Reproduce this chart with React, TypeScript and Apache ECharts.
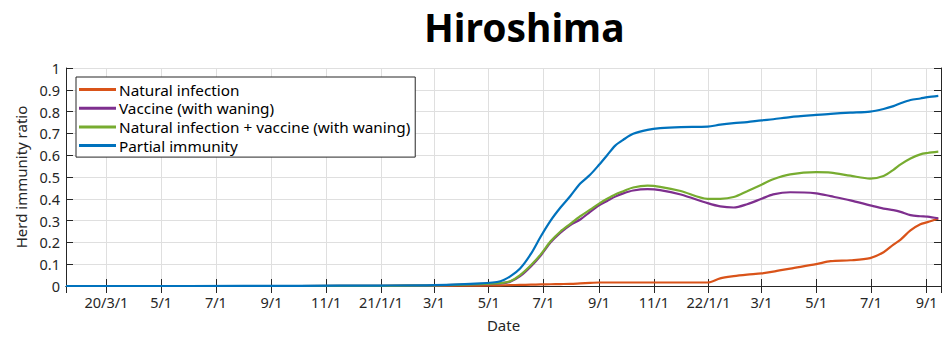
import React, { useEffect, useRef } from "react";
import * as echarts from "echarts";

// Sampling dates shared by all four curves
const dates = [
  "2020-01-16", "2020-06-01", "2020-10-01", "2021-01-01", "2021-03-01", "2021-04-22",
  "2021-05-14", "2021-05-25", "2021-06-05", "2021-06-17", "2021-06-28", "2021-07-09",
  "2021-07-20", "2021-07-31", "2021-08-11", "2021-08-22", "2021-09-01", "2021-09-10",
  "2021-09-19", "2021-09-28", "2021-10-09", "2021-10-25", "2021-11-08", "2021-12-01",
  "2021-12-31", "2022-01-14", "2022-01-29", "2022-02-13", "2022-03-01", "2022-03-14",
  "2022-04-02", "2022-05-01", "2022-05-17", "2022-06-08", "2022-06-30", "2022-07-15",
  "2022-07-26", "2022-08-03", "2022-08-14", "2022-08-25", "2022-09-02", "2022-09-14",
];

const naturalInfection = [
  0, 0, 0, 0, 0.001, 0.002,
  0.003, 0.004, 0.005, 0.006, 0.007, 0.008,
  0.009, 0.01, 0.012, 0.014, 0.016, 0.016,
  0.016, 0.016, 0.016, 0.016, 0.016, 0.016,
  0.016, 0.035, 0.045, 0.052, 0.058, 0.066,
  0.08, 0.1, 0.114, 0.118, 0.128, 0.155,
  0.19, 0.213, 0.255, 0.283, 0.293, 0.31,
];

const vaccineWaning = [
  0, 0, 0, 0.001, 0.003, 0.008,
  0.012, 0.02, 0.045, 0.09, 0.14, 0.2,
  0.245, 0.28, 0.305, 0.34, 0.37, 0.39,
  0.41, 0.425, 0.438, 0.444, 0.44, 0.42,
  0.38, 0.365, 0.36, 0.375, 0.4, 0.42,
  0.43, 0.425, 0.412, 0.393, 0.37, 0.355,
  0.348, 0.34, 0.325, 0.32, 0.318, 0.31,
];

const naturalPlusVaccine = [
  0, 0, 0, 0.001, 0.003, 0.008,
  0.013, 0.022, 0.05, 0.095, 0.145, 0.205,
  0.25, 0.285, 0.32, 0.35, 0.378, 0.4,
  0.42, 0.435, 0.452, 0.46, 0.455, 0.436,
  0.4, 0.4, 0.408, 0.435, 0.465, 0.49,
  0.512, 0.522, 0.52, 0.506, 0.493, 0.505,
  0.533, 0.558, 0.585, 0.604, 0.61, 0.616,
];

const partialImmunity = [
  0, 0, 0.001, 0.002, 0.004, 0.012,
  0.022, 0.044, 0.08, 0.147, 0.227, 0.3,
  0.36, 0.413, 0.47, 0.51, 0.556, 0.6,
  0.644, 0.671, 0.698, 0.716, 0.724, 0.729,
  0.731, 0.74, 0.747, 0.752, 0.76, 0.765,
  0.775, 0.785, 0.79, 0.795, 0.8, 0.812,
  0.825, 0.838, 0.853, 0.86, 0.866, 0.872,
];

const seriesNames = [
  "Natural infection",
  "Vaccine (with waning)",
  "Natural infection + vaccine (with waning)",
  "Partial immunity",
];
const seriesColors = ["#D95319", "#7E2F8E", "#77AC30", "#0072BD"];
const seriesValues = [naturalInfection, vaccineWaning, naturalPlusVaccine, partialImmunity];

const xStart = "2020-01-16";
const xEnd = "2022-09-17";

const toTime = (s: string) => {
  const [y, m, d] = s.split("-").map(Number);
  return Date.UTC(y, m - 1, d);
};

const FONT = "'Noto Sans', 'Open Sans', sans-serif";
const AXIS_COLOR = "#262626";
const GRID_COLOR = "#dfdfdf";

const dateLabel = (value: number) => {
  const d = new Date(value);
  const y = d.getUTCFullYear();
  const m = d.getUTCMonth() + 1;
  if (m === 1 || (y === 2020 && m === 3)) return `${y % 100}/${m}/1`;
  return `${m}/1`;
};

export default function App() {
  const ref = useRef<HTMLDivElement>(null);

  useEffect(() => {
    if (!ref.current) return;
    const chart = echarts.init(ref.current, undefined, { renderer: "svg" });

    const timeAxisBase = {
      type: "time" as const,
      min: toTime(xStart),
      max: toTime(xEnd),
      splitNumber: 15,
    };

    chart.setOption({
      animation: false,
      useUTC: true,
      backgroundColor: "#ffffff",
      title: {
        text: "Hiroshima",
        left: 424,
        top: 4,
        padding: 0,
        textStyle: {
          fontFamily: FONT,
          fontWeight: "bold",
          fontSize: 39,
          lineHeight: 44,
          color: "#000",
        },
      },
      legend: {
        orient: "vertical",
        left: 76,
        top: 77,
        data: seriesNames,
        icon: "rect",
        itemWidth: 37,
        itemHeight: 3,
        itemGap: 3.7,
        padding: [5, 5, 4, 3],
        backgroundColor: "#fff",
        borderColor: AXIS_COLOR,
        borderWidth: 1,
        textStyle: {
          fontFamily: FONT,
          fontSize: 15.3,
          lineHeight: 14,
          color: "#000",
          padding: [0, 0, 0, -2],
        },
      },
      grid: { left: 66, right: 10, top: 68, bottom: 44, containLabel: false },
      xAxis: [
        {
          ...timeAxisBase,
          position: "bottom",
          name: "Date",
          nameLocation: "middle",
          nameGap: 31,
          nameTextStyle: { fontFamily: FONT, fontSize: 15, color: AXIS_COLOR },
          axisLine: { show: true, lineStyle: { color: AXIS_COLOR, width: 1 } },
          axisTick: { show: true, inside: true, length: 7, lineStyle: { color: AXIS_COLOR } },
          axisLabel: {
            formatter: dateLabel,
            showMinLabel: false,
            showMaxLabel: false,
            margin: 8,
            fontFamily: FONT,
            fontSize: 14.5,
            color: AXIS_COLOR,
          },
          splitLine: { show: true, lineStyle: { color: GRID_COLOR, width: 1 } },
        },
        {
          ...timeAxisBase,
          position: "top",
          axisLine: { show: true, lineStyle: { color: AXIS_COLOR, width: 1 } },
          axisTick: { show: true, inside: true, length: 7, lineStyle: { color: AXIS_COLOR } },
          axisLabel: { show: false },
          splitLine: { show: false },
        },
      ],
      yAxis: [
        {
          type: "value",
          min: 0,
          max: 1,
          interval: 0.1,
          position: "left",
          name: "Herd immunity ratio",
          nameLocation: "middle",
          nameGap: 28,
          nameTextStyle: { fontFamily: FONT, fontSize: 15, color: AXIS_COLOR },
          axisLine: { show: true, lineStyle: { color: AXIS_COLOR, width: 1 } },
          axisTick: { show: true, inside: true, length: 7, lineStyle: { color: AXIS_COLOR } },
          axisLabel: {
            formatter: (v: number) => (v === 0 ? "0" : v === 1 ? "1" : v.toFixed(1)),
            margin: 6,
            fontFamily: FONT,
            fontSize: 14.5,
            color: AXIS_COLOR,
          },
          splitLine: { show: true, lineStyle: { color: GRID_COLOR, width: 1 } },
        },
        {
          type: "value",
          min: 0,
          max: 1,
          interval: 0.1,
          position: "right",
          axisLine: { show: true, lineStyle: { color: AXIS_COLOR, width: 1 } },
          axisTick: { show: true, inside: true, length: 7, lineStyle: { color: AXIS_COLOR } },
          axisLabel: { show: false },
          splitLine: { show: false },
        },
      ],
      series: seriesNames.map((name, i) => ({
        name,
        type: "line",
        xAxisIndex: 0,
        yAxisIndex: 0,
        showSymbol: false,
        symbol: "none",
        smooth: 0.3,
        color: seriesColors[i],
        lineStyle: { color: seriesColors[i], width: 2.2 },
        data: dates.map((d, k) => [toTime(d), seriesValues[i][k]]),
        z: 2 + i,
      })),
    });

    return () => chart.dispose();
  }, []);

  return (
    <div
      ref={ref}
      style={{ position: "fixed", left: 0, top: 0, width: 951, height: 337 }}
    />
  );
}
